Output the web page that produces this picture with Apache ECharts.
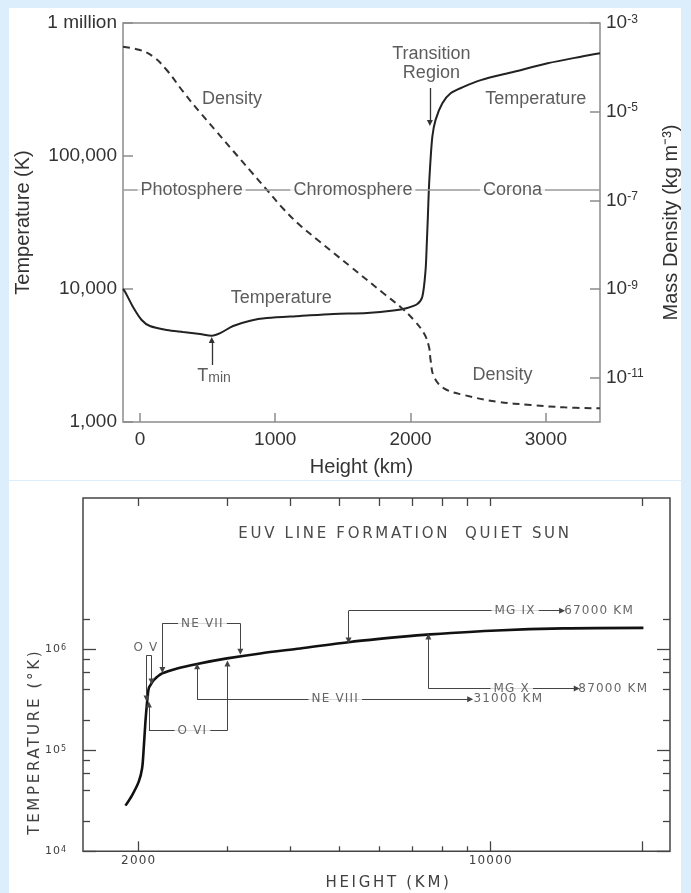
<!DOCTYPE html>
<html>
<head>
<meta charset="utf-8">
<script src="https://cdn.jsdelivr.net/npm/echarts@6/dist/echarts.min.js"></script>
<style>
  html, body { margin: 0; padding: 0; background: #dcedfb; }
  .panel { position: absolute; background: #ffffff; }
  #c { position: absolute; left: 0; top: 0; width: 691px; height: 893px; }
</style>
</head>
<body>
<div class="panel" style="left:9px;top:8px;width:672px;height:472px;"></div>
<div class="panel" style="left:9px;top:481px;width:672px;height:412px;"></div>
<div id="c"></div>
<script>
// ================= TOP PANEL: solar atmosphere =================
const topTempHeightKm = [-125, -110, -52, 13, 74, 198, 319, 444, 531, 593, 689, 815, 939, 1185, 1430, 1679, 1874, 1976, 2050, 2087, 2111, 2120, 2128, 2135, 2143, 2161, 2185, 2235, 2296, 2395, 2519, 2765, 3013, 3259, 3400];
const topTemperatureK = [10000, 9550, 7360, 5850, 5270, 4920, 4750, 4590, 4460, 4660, 5270, 5780, 6050, 6270, 6490, 6600, 6880, 7200, 7710, 8740, 13900, 22000, 35000, 55000, 78500, 140000, 187000, 249000, 296000, 332000, 372000, 430000, 498000, 558000, 592000];

const topDensHeightKm = [-125, 0, 99, 198, 321, 444, 568, 691, 815, 939, 1061, 1185, 1309, 1432, 1556, 1802, 1926, 2024, 2099, 2136, 2148, 2173, 2247, 2395, 2642, 2889, 3136, 3400];
const topDensityKgM3 = [2.92e-4, 2.46e-4, 1.74e-4, 8.71e-5, 2.78e-5, 9.62e-6, 3.51e-6, 1.28e-6, 4.68e-7, 1.71e-7, 6.37e-8, 2.70e-8, 1.31e-8, 6.48e-9, 3.21e-9, 7.91e-10, 3.93e-10, 2.0e-10, 1.0e-10, 4.99e-11, 2.5e-11, 1.05e-11, 5.74e-12, 4.06e-12, 2.86e-12, 2.42e-12, 2.14e-12, 2.03e-12];

const topXTicks = [0, 1000, 2000, 3000];
const topTempTicks = [1000, 10000, 100000, 1000000];
const topTempTickLabels = ['1,000', '10,000', '100,000', '1 million'];
const topDensTicks = [1e-11, 1e-9, 1e-7, 1e-5, 1e-3];

const topRegionLevelK = 55480;
const topRegionNames = ['Photosphere', 'Chromosphere', 'Corona'];
const topRegionKm = [382, 1574, 2753];

const topNoteText = ['Density', 'Temperature', 'Temperature', 'Density', 'Transition\nRegion'];
const topNoteKm = [681, 1044, 2926, 2679, 2154];
const topNoteK = [268000, 8550, 268000, 2237, 492000];

const tminLabelAt = [548, 2218];
const tminArrow = [531, 2683, 531, 4136];          // km, K from -> to
const transitionArrow = [2143, 324600, 2143, 177000];

// ================= BOTTOM PANEL: EUV line formation =================
const euvHeightKm = [1882, 1941, 2000, 2031, 2046, 2062, 2078, 2093, 2110, 2142, 2226, 2384, 2612, 2995, 3487, 4186, 5260, 6610, 7580, 10280, 13940, 20100];
const euvTemperatureK = [28350, 36100, 49000, 66400, 104700, 192000, 303000, 411000, 443000, 497000, 578000, 648400, 718500, 814600, 912700, 1023000, 1186000, 1330000, 1408000, 1542000, 1615000, 1633000];

const euvXMajorTicks = [2000, 10000, 20000];
const euvXMinorTicks = [3000, 4000, 5000, 6000, 7000, 8000, 9000];
const euvXTickLabels = [2000, 10000];
const euvYMajorTicks = [10000, 100000, 1000000];
const euvYMinorTicks = [20000, 40000, 60000, 80000, 200000, 400000, 600000, 800000, 2000000];
const euvYTickLabels = [10000, 100000, 1000000];

// bracket segments: [km1, K1, km2, K2, arrowAtEnd]
const euvBrackets = [
  [2072, 872000, 2072, 327000, 1],
  [2072, 872000, 2120, 872000, 0],
  [2120, 872000, 2120, 480000, 1],
  [2228, 1810000, 2228, 624000, 1],
  [2228, 1810000, 3183, 1810000, 0],
  [3183, 1810000, 3183, 949000, 1],
  [2095, 157000, 2095, 285000, 1],
  [2095, 157000, 3000, 157000, 0],
  [3000, 157000, 3000, 727000, 1],
  [2612, 320000, 2612, 680000, 1],
  [2612, 320000, 9105, 320000, 1],
  [5221, 2416000, 5221, 1227000, 1],
  [5221, 2416000, 13860, 2416000, 1],
  [7520, 411000, 7520, 1345000, 1],
  [7520, 411000, 14820, 411000, 1]
];
const euvIonNames = ['O V', 'NE VII', 'O VI', 'NE VIII', 'MG IX', 'MG X'];
const euvIonKm = [2067, 2676, 2556, 4913, 11180, 11010];
const euvIonK = [1047000, 1810000, 157000, 320000, 2416000, 411000];
const euvExtentText = ['31000 KM', '67000 KM', '87000 KM'];
const euvExtentKm = [9240, 13990, 14930];
const euvExtentK = [320000, 2416000, 411000];

// ================= wide lettering for the old (bottom) figure =================
(function () {
  const P = window.CanvasRenderingContext2D && CanvasRenderingContext2D.prototype;
  if (!P || !('letterSpacing' in P)) return;
  const spacingFor = function (font) {
    if (!/DejaVu/.test(font)) return '0px';
    const m = /(\d+(?:\.\d+)?)px/.exec(font);
    const size = m ? parseFloat(m[1]) : 12;
    return (size * (size <= 12 ? 0.1 : 0.18)).toFixed(2) + 'px';
  };
  const fill = P.fillText, measure = P.measureText;
  P.fillText = function (t, x, y, w) {
    const prev = this.letterSpacing;
    this.letterSpacing = spacingFor(this.font);
    const r = (w === undefined) ? fill.call(this, t, x, y) : fill.call(this, t, x, y, w);
    this.letterSpacing = prev;
    return r;
  };
  P.measureText = function (t) {
    const prev = this.letterSpacing;
    this.letterSpacing = spacingFor(this.font);
    const r = measure.call(this, t);
    this.letterSpacing = prev;
    return r;
  };
})();

// ================= styling =================
const FT = 'Liberation Sans, Arial, Helvetica, sans-serif';
const FB = 'DejaVu Sans, Verdana, sans-serif';
const topGray = '#8c8c8c';
const topText = '#333333';
const botInk = '#404040';

const zip = (a, b) => a.map((v, i) => [v, b[i]]);
const expOf = v => Math.round(Math.log10(v));

function tickOnlyAxis(gridIndex, type, min, max, position, values, len, color) {
  return {
    type: type, gridIndex: gridIndex, min: min, max: max, position: position,
    axisLine: { show: false, onZero: false },
    splitLine: { show: false },
    axisLabel: { show: false },
    axisTick: { show: true, inside: true, length: len, customValues: values, lineStyle: { color: color, width: 1.3 } }
  };
}

const chart = echarts.init(document.getElementById('c'), null, { renderer: 'canvas', width: 691, height: 893 });

const option = {
  animation: false,
  backgroundColor: 'transparent',
  title: {
    text: 'EUV LINE FORMATION  QUIET SUN',
    left: 400, top: 520, textAlign: 'center',
    textStyle: { fontFamily: FB, fontSize: 15, fontWeight: 'normal', color: '#4a4a4a' }
  },
  grid: [
    { left: 123, top: 23, width: 477, height: 399, show: true, borderColor: topGray, borderWidth: 1.5, backgroundColor: 'transparent' },
    { left: 83, top: 498, width: 587, height: 354, show: true, borderColor: '#444', borderWidth: 1.5, backgroundColor: 'transparent' }
  ],
  xAxis: [
    {
      type: 'value', gridIndex: 0, min: -125, max: 3400, position: 'bottom',
      axisLine: { show: false, onZero: false }, splitLine: { show: false },
      axisTick: { show: true, inside: true, length: 9, customValues: topXTicks, lineStyle: { color: topGray, width: 1.5 } },
      axisLabel: { customValues: topXTicks, formatter: v => String(v), margin: 8, fontSize: 19, color: topText, fontFamily: FT },
      name: 'Height (km)', nameLocation: 'middle', nameGap: 35, nameMoveOverlap: false,
      nameTextStyle: { fontSize: 20, color: topText, fontFamily: FT }
    },
    {
      type: 'log', logBase: 10, gridIndex: 1, min: 1550, max: 22700, position: 'bottom',
      axisLine: { show: false, onZero: false }, splitLine: { show: false },
      axisTick: { show: true, inside: true, length: 10, customValues: euvXMajorTicks, lineStyle: { color: '#444', width: 1.3 } },
      axisLabel: { customValues: euvXTickLabels, formatter: v => String(Math.round(v)), margin: 3, fontSize: 12, color: botInk, fontFamily: FB },
      name: 'HEIGHT (KM)', nameLocation: 'middle', nameGap: 23, nameMoveOverlap: false,
      nameTextStyle: { fontSize: 15, color: botInk, fontFamily: FB, padding: [0, 0, 0, 24] }
    },
    tickOnlyAxis(1, 'log', 1550, 22700, 'bottom', euvXMinorTicks, 5, '#444'),
    tickOnlyAxis(1, 'log', 1550, 22700, 'top', euvXMajorTicks.concat(euvXMinorTicks), 8, '#444')
  ],
  yAxis: [
    {
      type: 'log', logBase: 10, gridIndex: 0, min: 1000, max: 1000000, position: 'left',
      axisLine: { show: false, onZero: false }, splitLine: { show: false },
      axisTick: { show: true, inside: true, length: 10, customValues: topTempTicks, lineStyle: { color: topGray, width: 1.5 } },
      axisLabel: { customValues: topTempTicks, formatter: v => topTempTickLabels[expOf(v) - 3], margin: 6, fontSize: 19, color: topText, fontFamily: FT },
      name: 'Temperature (K)', nameLocation: 'middle', nameGap: 90, nameMoveOverlap: false,
      nameTextStyle: { fontSize: 20, color: topText, fontFamily: FT }
    },
    {
      type: 'log', logBase: 10, gridIndex: 0, min: 1e-12, max: 1e-3, position: 'right',
      axisLine: { show: false, onZero: false }, splitLine: { show: false },
      axisTick: { show: true, inside: true, length: 10, customValues: topDensTicks, lineStyle: { color: topGray, width: 1.5 } },
      axisLabel: {
        customValues: topDensTicks, margin: 6, color: topText, fontFamily: FT,
        formatter: v => '{b|10}{s|' + expOf(v) + '}',
        rich: {
          b: { fontSize: 19, color: topText, fontFamily: FT },
          s: { fontSize: 12, color: topText, fontFamily: FT, verticalAlign: 'top' }
        }
      },
      name: 'Mass Density (kg m⁻³)', nameLocation: 'middle', nameGap: 61, nameMoveOverlap: false,
      nameTextStyle: { fontSize: 20, color: topText, fontFamily: FT }
    },
    {
      type: 'log', logBase: 10, gridIndex: 1, min: 10000, max: Math.pow(10, 7.5), position: 'left',
      axisLine: { show: false, onZero: false }, splitLine: { show: false },
      axisTick: { show: true, inside: true, length: 13, customValues: euvYMajorTicks, lineStyle: { color: '#444', width: 1.3 } },
      axisLabel: {
        customValues: euvYTickLabels, margin: 16, color: botInk, fontFamily: FB,
        formatter: v => '{b|10}{s|' + expOf(v) + '}',
        rich: {
          b: { fontSize: 11, color: botInk, fontFamily: FB },
          s: { fontSize: 8, color: botInk, fontFamily: FB, verticalAlign: 'top' }
        }
      },
      name: 'TEMPERATURE (°K)', nameLocation: 'middle', nameGap: 39, nameMoveOverlap: false,
      nameTextStyle: { fontSize: 15, color: botInk, fontFamily: FB, padding: [0, 134, 0, 0] }
    },
    tickOnlyAxis(1, 'log', 10000, Math.pow(10, 7.5), 'left', euvYMinorTicks, 7, '#444'),
    tickOnlyAxis(1, 'log', 10000, Math.pow(10, 7.5), 'right', euvYMajorTicks, 13, '#444'),
    tickOnlyAxis(1, 'log', 10000, Math.pow(10, 7.5), 'right', euvYMinorTicks, 7, '#444')
  ],
  series: [
    {
      name: 'Temperature', type: 'line', xAxisIndex: 0, yAxisIndex: 0,
      data: zip(topTempHeightKm, topTemperatureK),
      showSymbol: false, symbol: 'none', smooth: 0.3, z: 3,
      lineStyle: { color: '#222', width: 2 },
      markLine: {
        silent: true, symbol: ['none', 'none'], label: { show: false },
        emphasis: { disabled: true },
        data: [
          { yAxis: topRegionLevelK, lineStyle: { color: '#9a9a9a', width: 1.5, type: 'solid' } },
          [
            { coord: [tminArrow[0], tminArrow[1]], symbol: 'none', lineStyle: { color: '#333', width: 1.3, type: 'solid' } },
            { coord: [tminArrow[2], tminArrow[3]], symbol: 'triangle', symbolSize: 6 }
          ],
          [
            { coord: [transitionArrow[0], transitionArrow[1]], symbol: 'none', lineStyle: { color: '#333', width: 1.3, type: 'solid' } },
            { coord: [transitionArrow[2], transitionArrow[3]], symbol: 'triangle', symbolSize: 6 }
          ]
        ]
      }
    },
    {
      name: 'Density', type: 'line', xAxisIndex: 0, yAxisIndex: 1,
      data: zip(topDensHeightKm, topDensityKgM3),
      showSymbol: false, symbol: 'none', smooth: 0.4, z: 3,
      lineStyle: { color: '#333', width: 2, type: [7, 5] }
    },
    {
      name: 'top labels', type: 'scatter', xAxisIndex: 0, yAxisIndex: 0, symbolSize: 0, z: 6, silent: true,
      data: topNoteText.map((t, i) => ({
        value: [topNoteKm[i], topNoteK[i]],
        label: { show: true, position: 'inside', formatter: t, fontSize: 18, lineHeight: 19, color: topText, fontFamily: FT }
      })).concat(topRegionNames.map((t, i) => ({
        value: [topRegionKm[i], topRegionLevelK],
        label: { show: true, position: 'inside', formatter: t, fontSize: 18, color: topText, fontFamily: FT, backgroundColor: '#fff', padding: [1, 3] }
      }))).concat([{
        value: tminLabelAt,
        label: {
          show: true, position: 'inside', formatter: '{t|T}{m|min}',
          rich: {
            t: { fontSize: 18, color: topText, fontFamily: FT, verticalAlign: 'top', lineHeight: 18 },
            m: { fontSize: 14, color: topText, fontFamily: FT, verticalAlign: 'bottom', lineHeight: 14, padding: [11, 0, 0, 0] }
          }
        }
      }])
    },
    {
      name: 'EUV temperature', type: 'line', xAxisIndex: 1, yAxisIndex: 2,
      data: zip(euvHeightKm, euvTemperatureK),
      showSymbol: false, symbol: 'none', smooth: 0.3, z: 3,
      lineStyle: { color: '#111', width: 2.6 },
      markLine: {
        silent: true, symbol: ['none', 'none'], label: { show: false },
        emphasis: { disabled: true },
        data: euvBrackets.map(s => [
          { coord: [s[0], s[1]], symbol: 'none', lineStyle: { color: '#444', width: 1, type: 'solid' } },
          { coord: [s[2], s[3]], symbol: s[4] ? 'triangle' : 'none', symbolSize: 6 }
        ])
      }
    },
    {
      name: 'EUV labels', type: 'scatter', xAxisIndex: 1, yAxisIndex: 2, symbolSize: 0, z: 6, silent: true,
      data: euvIonNames.map((t, i) => ({
        value: [euvIonKm[i], euvIonK[i]],
        label: { show: true, position: 'inside', formatter: t, fontSize: 12, color: botInk, fontFamily: FB, backgroundColor: '#fff', padding: [1, 3] }
      })).concat(euvExtentText.map((t, i) => ({
        value: [euvExtentKm[i], euvExtentK[i]],
        label: { show: true, position: 'inside', align: 'left', formatter: t, fontSize: 12, color: botInk, fontFamily: FB }
      })))
    }
  ]
};
chart.setOption(option);
</script>
</body>
</html>
